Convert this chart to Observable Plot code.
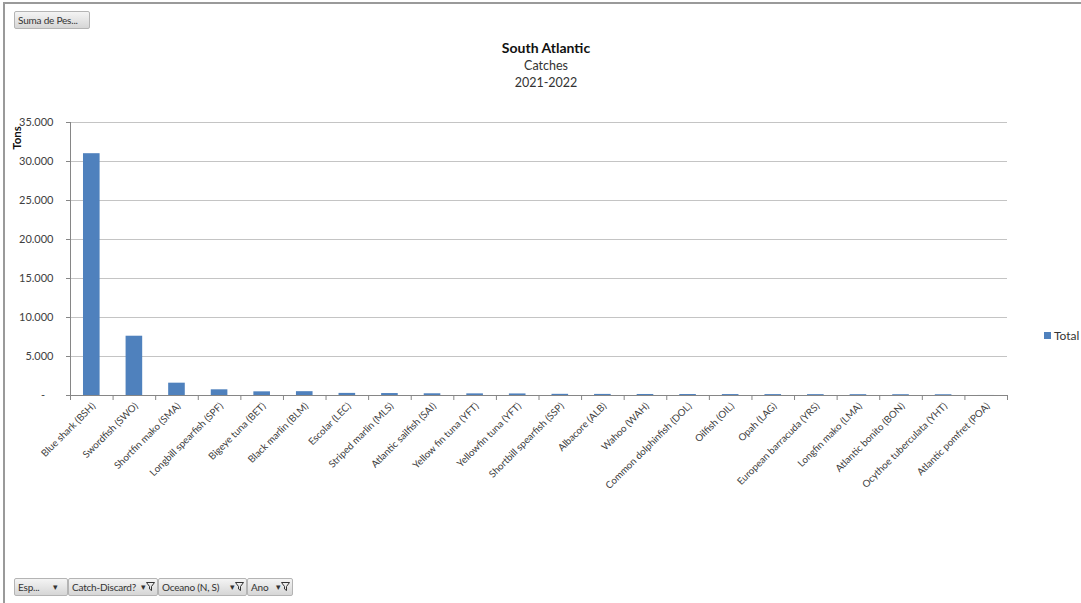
<!DOCTYPE html>
<html>
<head>
<meta charset="utf-8">
<script src="https://cdn.jsdelivr.net/npm/d3@7"></script>
<script src="https://cdn.jsdelivr.net/npm/@observablehq/plot@0.6"></script>
<style>
  html, body { margin: 0; padding: 0; background: #fff; }
  #wrap { position: relative; width: 1081px; height: 603px; overflow: hidden; font-family: Lato, "Liberation Sans", sans-serif; color: #404040; }
  #border { position: absolute; left: 3px; top: 2px; right: -5px; bottom: -5px; border-left: 2px solid #9a9a9a; border-top: 2px solid #9a9a9a; }
  #chart { position: absolute; left: 0; top: 0; }
  .btn { position: absolute; box-sizing: border-box; height: 18px; border: 1px solid #b4b4b4; border-radius: 2px;
         background: linear-gradient(#f4f4f4, #d6d6d6); font-size: 10px; letter-spacing: -0.2px; line-height: 16px; padding-left: 3px; color: #333; white-space: nowrap; }
  .btn .ic { position: absolute; right: 2px; top: 0; font-size: 9px; letter-spacing: 0; }
  #title { position: absolute; left: 0; width: 1092px; top: 39px; text-align: center; color: #111; }
  #title .t1 { font-weight: bold; font-size: 14px; line-height: 18px; }
  #title .t2 { font-size: 12.5px; line-height: 17px; color: #333; }
  #ylab { position: absolute; left: 16px; top: 138px; transform: translate(-50%, -50%) rotate(-90deg); font-weight: bold; font-size: 11.5px; color: #111; }
  #legend { position: absolute; left: 1044px; top: 328px; font-size: 12px; color: #333; }
  #legend span.sw { display: inline-block; width: 7px; height: 7px; background: #4f81bd; margin-right: 3px; vertical-align: 1px; }
</style>
</head>
<body>
<div id="wrap">
  <div id="border"></div>
  <div id="chart"></div>
  <div class="btn" style="left:14px; top:11px; width:76px;">Suma de Pes...</div>
  <div id="title">
    <div class="t1">South Atlantic</div>
    <div class="t2">Catches</div>
    <div class="t2">2021-2022</div>
  </div>
  <div id="ylab">Tons</div>
  <div id="legend"><span class="sw"></span>Total</div>
  <div class="btn" style="left:14px; top:578px; width:54px;">Esp...<span class="ic">▾&nbsp;&nbsp;&nbsp;</span></div>
  <div class="btn" style="left:68px; top:578px; width:90px;">Catch-Discard?<span class="ic">▾<svg width="9" height="9" viewBox="0 0 9 9" style="vertical-align:-1px"><path d="M0.5 0.5 H8.5 L5.5 4.5 V8.5 L3.5 7 V4.5 Z" fill="none" stroke="#333" stroke-width="1"/></svg></span></div>
  <div class="btn" style="left:158px; top:578px; width:89px;">Oceano (N, S)<span class="ic">▾<svg width="9" height="9" viewBox="0 0 9 9" style="vertical-align:-1px"><path d="M0.5 0.5 H8.5 L5.5 4.5 V8.5 L3.5 7 V4.5 Z" fill="none" stroke="#333" stroke-width="1"/></svg></span></div>
  <div class="btn" style="left:247px; top:578px; width:46px;">Ano<span class="ic">▾<svg width="9" height="9" viewBox="0 0 9 9" style="vertical-align:-1px"><path d="M0.5 0.5 H8.5 L5.5 4.5 V8.5 L3.5 7 V4.5 Z" fill="none" stroke="#333" stroke-width="1"/></svg></span></div>
</div>
<script>
const categories = [
  "Blue shark (BSH)", "Swordfish (SWO)", "Shortfin mako (SMA)", "Longbill spearfish (SPF)",
  "Bigeye tuna (BET)", "Black marlin (BLM)", "Escolar (LEC)", "Striped marlin (MLS)",
  "Atlantic sailfish (SAI)", "Yellow fin tuna (YFT)", "Yellowfin tuna (YFT)", "Shortbill spearfish (SSP)",
  "Albacore (ALB)", "Wahoo (WAH)", "Common dolphinfish (DOL)", "Oilfish (OIL)",
  "Opah (LAG)", "European barracuda (YRS)", "Longfin mako (LMA)", "Atlantic bonito (BON)",
  "Ocythoe tuberculata (YHT)", "Atlantic pomfret (POA)"
];
const tons = [
  31000, 7600, 1580, 730,
  470, 490, 270, 250,
  220, 210, 200, 150,
  140, 130, 125, 120,
  115, 110, 105, 100,
  95, 5
];
const yTicks = [0, 5000, 10000, 15000, 20000, 25000, 30000, 35000];

const data = categories.map((c, i) => ({species: c, tons: tons[i]}));
const W = 1081, H = 603, mL = 70, mR = 74, mT = 122, mB = 208;
const step = (W - mL - mR) / categories.length;
const fmt = d => d === 0 ? "-\u00a0\u00a0\u00a0" : d3.format(",")(d).replace(/,/g, ".");
const axisColor = "#868686";

const chart = Plot.plot({
  width: W, height: H,
  marginLeft: mL, marginRight: mR, marginTop: mT, marginBottom: mB,
  style: {fontFamily: "Lato, 'Liberation Sans', sans-serif", fontSize: "10.5px", color: "#404040", background: "transparent"},
  x: {domain: categories, paddingInner: 0.61, paddingOuter: 0.305, round: false, axis: null, label: null},
  y: {domain: [0, 35000], axis: null, label: null},
  marks: [
    Plot.gridY(yTicks, {stroke: "#c4c4c4", strokeOpacity: 1}),
    Plot.barY(data, {x: "species", y: "tons", fill: "#4f81bd"}),
    Plot.frame({anchor: "left", stroke: axisColor}),
    Plot.frame({anchor: "bottom", stroke: axisColor}),
    Plot.axisY({ticks: yTicks, tickSize: 4, tickPadding: 13, tickFormat: fmt, stroke: axisColor, fill: "#404040", fontSize: 11, label: null}),
    Plot.axisX({tickSize: 5, tickFormat: () => "", dx: -step / 2, stroke: axisColor, label: null}),
    Plot.axisX([categories[categories.length - 1]], {tickSize: 5, tickFormat: () => "", dx: step / 2, stroke: axisColor, label: null}),
    Plot.axisX({tickSize: 0, tickRotate: -45, tickPadding: 9, dx: 2, fill: "#404040", fontSize: 9.8, label: null})
  ]
});
document.getElementById("chart").appendChild(chart);
</script>
</body>
</html>
